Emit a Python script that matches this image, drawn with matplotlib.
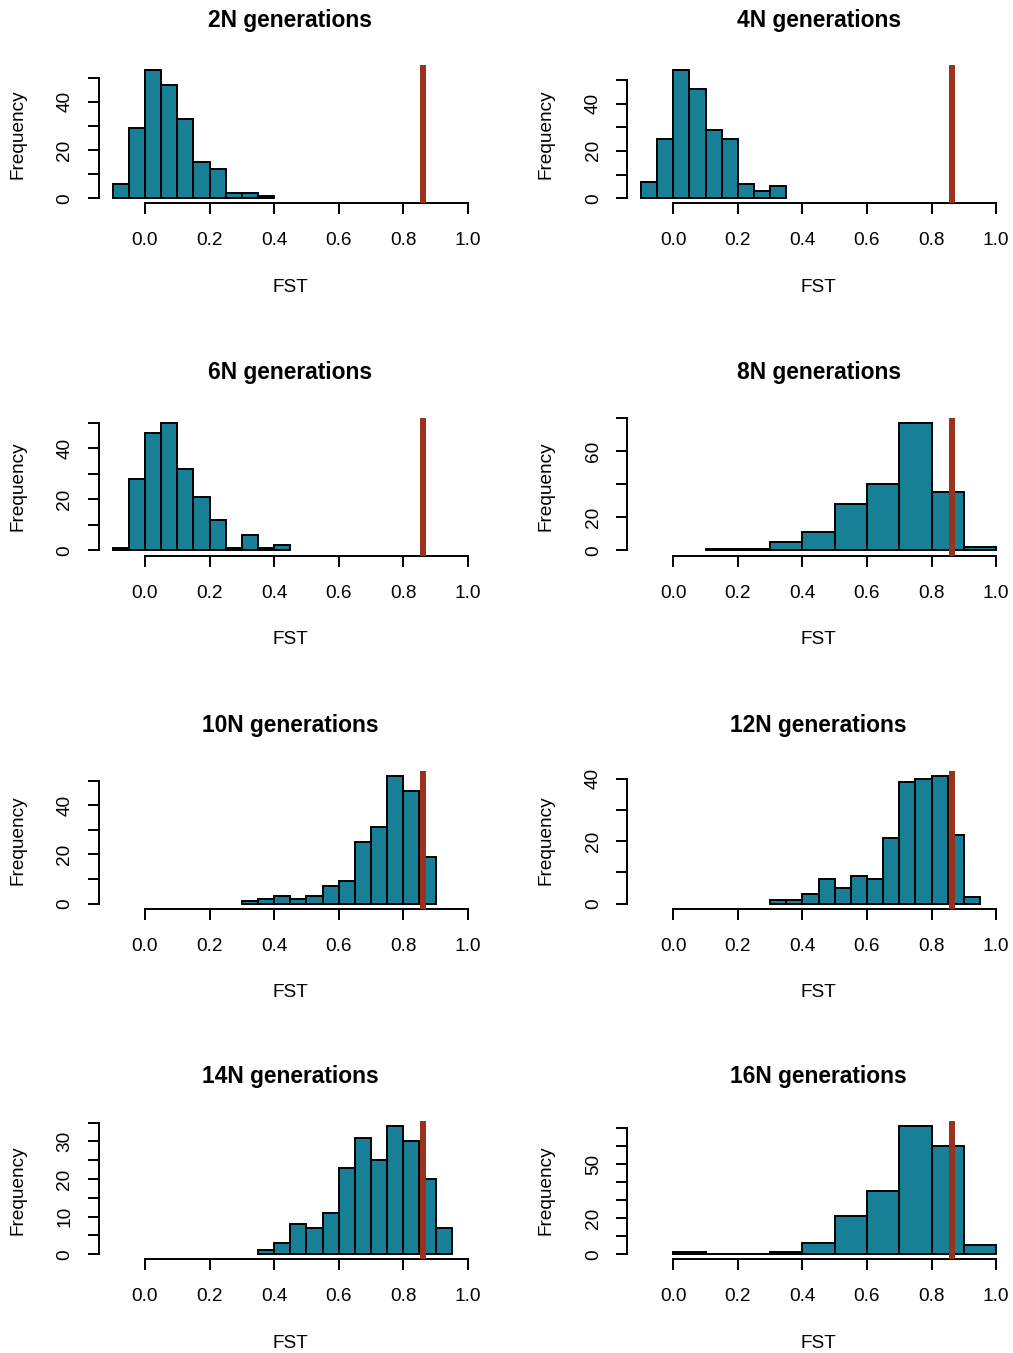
import matplotlib
matplotlib.use("Agg")
import matplotlib.pyplot as plt
from matplotlib.transforms import offset_copy

plt.rcParams["font.family"] = ["Liberation Sans", "DejaVu Sans"]

# Simulated FST distributions after increasing numbers of generations
titles = ["2N generations", "4N generations", "6N generations", "8N generations",
          "10N generations", "12N generations", "14N generations", "16N generations"]
bin_start = [-0.1, -0.1, -0.1, 0.1, 0.3, 0.3, 0.35, 0.0]
bin_width = [0.05, 0.05, 0.05, 0.1, 0.05, 0.05, 0.05, 0.1]

counts_2N = [6, 29, 53, 47, 33, 15, 12, 2, 2, 1]
counts_4N = [7, 25, 54, 46, 29, 25, 6, 3, 5]
counts_6N = [1, 28, 46, 50, 32, 21, 12, 1, 6, 1, 2]
counts_8N = [1, 1, 5, 11, 28, 40, 77, 35, 2]
counts_10N = [1, 2, 3, 2, 3, 7, 9, 25, 31, 52, 46, 19]
counts_12N = [1, 1, 3, 8, 5, 9, 8, 21, 39, 40, 41, 22, 2]
counts_14N = [1, 3, 8, 7, 11, 23, 31, 25, 34, 30, 20, 7]
counts_16N = [1, 0, 0, 1, 6, 21, 35, 71, 60, 5]
all_counts = [counts_2N, counts_4N, counts_6N, counts_8N,
              counts_10N, counts_12N, counts_14N, counts_16N]

# Observed FST between the two populations
observed_fst = 0.862

# Axis ticks and the labels that are printed on them
x_ticks = [0.0, 0.2, 0.4, 0.6, 0.8, 1.0]
x_tick_labels = ["0.0", "0.2", "0.4", "0.6", "0.8", "1.0"]
y_ticks = [
    [0, 10, 20, 30, 40, 50],
    [0, 10, 20, 30, 40, 50],
    [0, 10, 20, 30, 40, 50],
    [0, 20, 40, 60, 80],
    [0, 10, 20, 30, 40, 50],
    [0, 10, 20, 30, 40],
    [0, 5, 10, 15, 20, 25, 30, 35],
    [0, 10, 20, 30, 40, 50, 60, 70],
]
y_labelled = [
    [0, 20, 40],
    [0, 20, 40],
    [0, 20, 40],
    [0, 20, 60],
    [0, 20, 40],
    [0, 20, 40],
    [0, 10, 20, 30],
    [0, 20, 50],
]

bar_color = "#177F96"
line_color = "#9B321C"
x_lo, x_hi = -0.1, 1.0

W, H = 1013, 1353
fig = plt.figure(figsize=(W / 100, H / 100), dpi=100)

col_left = [98.5, 626.8]
row_top = [65.3, 417.6, 770.7, 1121.3]
ax_w, ax_h = 383.5, 138.0

lw_axis = 1.4
for i in range(8):
    r, c = divmod(i, 2)
    left = col_left[c] / W
    bottom = 1 - (row_top[r] + ax_h) / H
    ax = fig.add_axes([left, bottom, ax_w / W, ax_h / H])

    counts = all_counts[i]
    edges = [bin_start[i] + k * bin_width[i] for k in range(len(counts))]
    ax.bar(edges, counts, width=bin_width[i], align="edge",
           color=bar_color, edgecolor="black", linewidth=1.4, zorder=2)
    ax.axvline(observed_fst, color=line_color, linewidth=4.3, zorder=3)

    xr = x_hi - x_lo
    ax.set_xlim(x_lo - 0.04 * xr, x_hi + 0.04 * xr)
    ymax = max(counts)
    ax.set_ylim(-0.04 * ymax, 1.04 * ymax)

    for s in ("top", "right"):
        ax.spines[s].set_visible(False)
    ax.spines["left"].set_bounds(y_ticks[i][0], y_ticks[i][-1])
    ax.spines["bottom"].set_bounds(x_ticks[0], x_ticks[-1])
    ax.spines["left"].set_linewidth(lw_axis)
    ax.spines["bottom"].set_linewidth(lw_axis)

    ax.set_xticks(x_ticks)
    ax.set_xticklabels(x_tick_labels)
    ax.set_yticks(y_ticks[i])
    ax.set_yticklabels([str(v) if v in y_labelled[i] else "" for v in y_ticks[i]],
                       rotation=90, va="center")
    ax.tick_params(axis="both", direction="out", length=8, width=lw_axis,
                   labelsize=13.7)
    ax.tick_params(axis="x", pad=13)
    ax.tick_params(axis="y", pad=10)

    ax.text(0.5, 1, titles[i], transform=offset_copy(ax.transAxes, fig=fig, y=45, units="dots"),
            ha="center", va="center", fontsize=16.4, fontweight="bold")
    ax.text(0.5, 0, "FST", transform=offset_copy(ax.transAxes, fig=fig, y=-84, units="dots"),
            ha="center", va="center", fontsize=13.7)
    ax.text(0, 0.5, "Frequency", transform=offset_copy(ax.transAxes, fig=fig, x=-80.5, units="dots"),
            ha="center", va="center", rotation=90, fontsize=13.7)

fig.savefig("out.png", dpi=100, facecolor="white")
